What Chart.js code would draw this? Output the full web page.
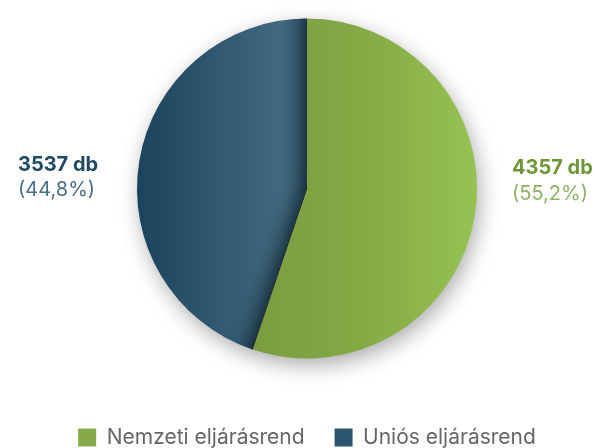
<!DOCTYPE html>
<html>
<head>
<meta charset="utf-8">
<script src="https://cdn.jsdelivr.net/npm/chart.js@4.4.1/dist/chart.umd.min.js"></script>
<style>
  html, body { margin: 0; padding: 0; background: #ffffff; }
  #wrap { width: 595px; height: 448px; position: relative; }
</style>
</head>
<body>
<div id="wrap"><canvas id="c" width="595" height="448"></canvas></div>
<script>
const categories = ['Nemzeti eljárásrend', 'Uniós eljárásrend'];
const values = [4357, 3537];
const unit = 'db';

const FONT = 'Inter, Roboto, "DejaVu Sans", sans-serif';

function sliceGradient(ctx) {
  const chart = ctx.chart;
  const area = chart.chartArea;
  if (!area) return '#888';
  const cx = (area.left + area.right) / 2;
  const r = 170;
  const c = chart.ctx;
  if (ctx.dataIndex === 0) {
    const g = c.createLinearGradient(cx - 55, 0, cx + r, 0);
    g.addColorStop(0, '#7a9c40');
    g.addColorStop(0.5, '#84aa45');
    g.addColorStop(1, '#97c253');
    return g;
  } else {
    const g = c.createLinearGradient(cx - r, 0, cx, 0);
    g.addColorStop(0, '#1b435d');
    g.addColorStop(0.85, '#42697f');
    g.addColorStop(1, '#3e6680');
    return g;
  }
}

const dropShadow = {
  id: 'dropShadow',
  beforeDatasetsDraw(chart) {
    const arc = chart.getDatasetMeta(0).data[0];
    if (!arc) return;
    const c = chart.ctx;
    c.save();
    c.shadowColor = 'rgba(0,0,0,0.35)';
    c.shadowBlur = 22;
    c.shadowOffsetX = 3;
    c.shadowOffsetY = 7;
    c.fillStyle = '#ffffff';
    c.beginPath();
    c.arc(arc.x, arc.y, arc.outerRadius - 1, 0, Math.PI * 2);
    c.fill();
    c.restore();
  }
};

// shadow cast by the green slice onto the blue one
const edgeShade = {
  id: 'edgeShade',
  afterDatasetsDraw(chart) {
    const meta = chart.getDatasetMeta(0);
    const blue = meta.data[1], green = meta.data[0];
    if (!blue || !green) return;
    const c = chart.ctx;
    c.save();
    c.beginPath();
    c.moveTo(blue.x, blue.y);
    c.arc(blue.x, blue.y, blue.outerRadius, blue.startAngle, blue.endAngle);
    c.closePath();
    c.clip();
    c.shadowColor = 'rgba(15,30,40,0.85)';
    c.shadowBlur = 22;
    c.fillStyle = '#000';
    for (let k = 0; k < 2; k++) {
      c.beginPath();
      c.moveTo(green.x, green.y);
      c.arc(green.x, green.y, green.outerRadius + 30, green.startAngle, green.endAngle);
      c.closePath();
      c.fill();
    }
    c.restore();
  }
};

const sideLabels = {
  id: 'sideLabels',
  afterDraw(chart) {
    const arc = chart.getDatasetMeta(0).data[0];
    if (!arc) return;
    const c = chart.ctx;
    const total = values.reduce((a, b) => a + b, 0);
    const pct = v => '(' + (v / total * 100).toFixed(1).replace('.', ',') + '%)';
    const R = arc.outerRadius;
    const items = [
      { i: 0, x: arc.x + R + 35, b1: arc.y - 15, b2: arc.y + 11, main: '#6e9637', sub: '#8db364' },
      { i: 1, x: 18, b1: arc.y - 18, b2: arc.y + 7, main: '#1f4862', sub: '#4a6e86' }
    ];
    c.save();
    c.textAlign = 'left';
    c.textBaseline = 'alphabetic';
    items.forEach(it => {
      c.fillStyle = it.main;
      c.font = 'bold 20px ' + FONT;
      c.fillText(values[it.i] + ' ' + unit, it.x, it.b1);
      c.fillStyle = it.sub;
      c.font = '20px ' + FONT;
      c.fillText(pct(values[it.i]), it.x, it.b2);
    });
    c.restore();
  }
};

new Chart(document.getElementById('c'), {
  type: 'pie',
  data: {
    labels: categories,
    datasets: [{
      data: values,
      backgroundColor: sliceGradient,
      borderWidth: 0,
      hoverOffset: 0,
      radius: 170
    }]
  },
  options: {
    responsive: false,
    animation: false,
    events: [],
    layout: { padding: { left: 19, right: 0, top: 0, bottom: -10 } },
    plugins: {
      tooltip: { enabled: false },
      legend: {
        display: true,
        position: 'bottom',
        title: {
          display: true,
          text: ' ',
          font: { size: 10, lineHeight: 1 },
          padding: { top: 0, bottom: 10 }
        },
        labels: {
          font: { family: FONT, size: 21 },
          color: '#a0a0a0',
          boxWidth: 18,
          boxHeight: 18,
          padding: 30,
          generateLabels(chart) {
            const cols = ['#84ab47', '#2c5670'];
            return categories.map((t, i) => ({
              text: t, fillStyle: cols[i], strokeStyle: cols[i], lineWidth: 0, index: i, hidden: false
            }));
          }
        }
      }
    }
  },
  plugins: [dropShadow, edgeShade, sideLabels]
});
</script>
</body>
</html>
